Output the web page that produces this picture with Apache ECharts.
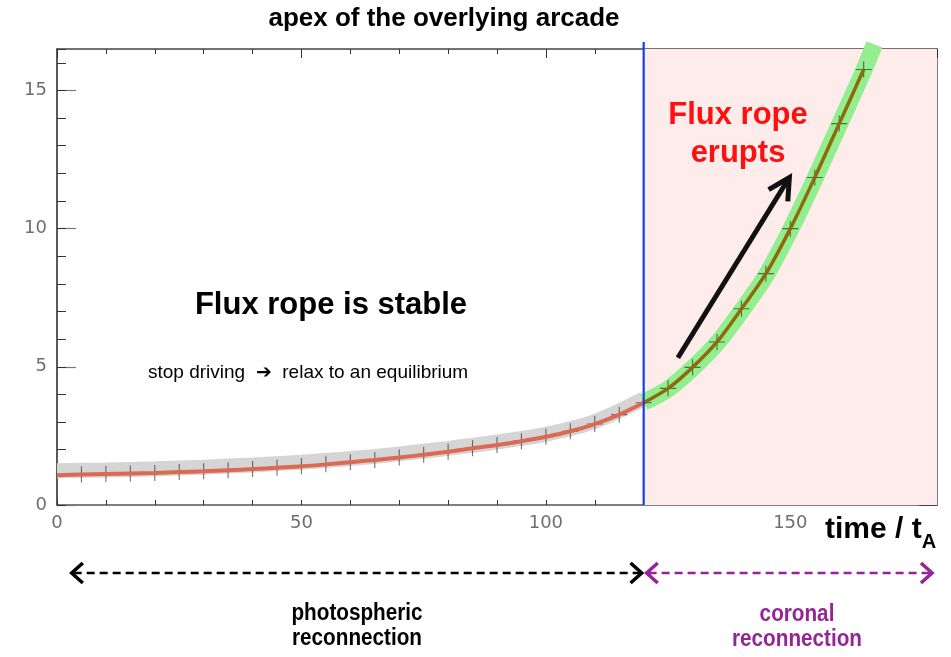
<!DOCTYPE html>
<html>
<head>
<meta charset="utf-8">
<script src="https://cdn.jsdelivr.net/npm/echarts@6/dist/echarts.min.js"></script>
<style>
  html, body { margin: 0; padding: 0; background: #fff; }
  #chart { width: 951px; height: 657px; }
</style>
</head>
<body>
<div id="chart"></div>
<script>
// Height of the flux-rope apex versus time (in Alfven times)
const tStable = [0, 5, 10, 15, 20, 25, 30, 35, 40, 45, 50, 55, 60, 65, 70, 75, 80, 85, 90, 95, 100, 105, 110, 115, 120];
const hStable = [1.08, 1.10, 1.12, 1.14, 1.16, 1.19, 1.22, 1.26, 1.30, 1.35, 1.40, 1.47, 1.55, 1.63, 1.72, 1.82, 1.93, 2.05, 2.17, 2.31, 2.47, 2.67, 2.93, 3.27, 3.70];
const tErupt = [120, 125, 130, 135, 140, 145, 150, 155, 160, 165];
const hErupt = [3.70, 4.22, 4.98, 5.90, 7.10, 8.37, 10.0, 11.85, 13.8, 15.76];

// Broad shaded bands behind the two phases
const tGrayBand = [0, 10, 20, 30, 40, 50, 60, 70, 80, 90, 100, 110, 120];
const hGrayBand = [1.24, 1.27, 1.31, 1.37, 1.45, 1.55, 1.68, 1.85, 2.05, 2.28, 2.56, 3.02, 3.84];
const tGreenBand = [120, 125, 130, 135, 140, 145, 150, 155, 160, 165, 167.2];
const hGreenBand = [3.72, 4.20, 4.95, 5.85, 7.02, 8.30, 9.95, 11.8, 13.75, 15.72, 16.67];

// Sampled outputs (every 5 t_A) shown as crosses
const tMarks = tStable.slice(1).concat(tErupt.slice(1));
const hMarks = hStable.slice(1).concat(hErupt.slice(1));

// Axis ticks
const xTickLabels = [0, 50, 100, 150];
const yTickLabels = [0, 5, 10, 15];
const driveStop = 120;      // end of photospheric driving
const xMax = 180;
const yMax = 16.5;

// Annotation anchors in data units
const eruptArrowFrom = [127, 5.33];
const eruptArrowTo = [149.8, 11.85];
const photoSpan = [3, 119.6];
const coronalSpan = [120.6, 179];

const FONT = '"Liberation Sans", Arial, Helvetica, sans-serif';
const tickFont = { color: '#6e6e6e', fontSize: 18, fontFamily: '"DejaVu Sans", sans-serif' };

const zip = (a, b) => a.map((v, i) => [v, b[i]]);

const chart = echarts.init(document.getElementById('chart'), null, { renderer: 'canvas' });

const baseX = {
  type: 'value', min: 0, max: xMax, splitLine: { show: false },
  axisLine: { show: false, onZero: false }, axisLabel: { show: false },
  axisTick: { show: false }
};
const baseY = {
  type: 'value', min: 0, splitLine: { show: false },
  axisLine: { show: false, onZero: false }, axisLabel: { show: false },
  axisTick: { show: false }
};

chart.setOption({
  animation: false,
  backgroundColor: '#ffffff',
  grid: { left: 57, right: 14, top: 49, bottom: 152 },
  xAxis: [
    Object.assign({}, baseX, {
      position: 'bottom', interval: 10,
      axisLine: { show: true, onZero: false, lineStyle: { color: '#555', width: 1.5 } },
      axisTick: { show: true, inside: true, length: 5, lineStyle: { color: '#333' } },
      axisLabel: Object.assign({
        show: true, margin: 9, showMaxLabel: false,
        formatter: v => (xTickLabels.indexOf(v) >= 0 ? String(v) : '')
      }, tickFont)
    }),
    Object.assign({}, baseX, {
      position: 'top', interval: 10,
      axisLine: { show: true, onZero: false, lineStyle: { color: '#444', width: 1.5 } },
      axisTick: { show: true, inside: true, length: 5, lineStyle: { color: '#333' } }
    }),
    Object.assign({}, baseX, {
      position: 'top', interval: 50,
      axisTick: { show: true, inside: true, length: 9, lineStyle: { color: '#333' } }
    })
  ],
  yAxis: [
    Object.assign({}, baseY, {
      position: 'left', max: yMax, interval: 5,
      axisLine: { show: true, onZero: false, lineStyle: { color: '#222', width: 1.5 } },
      axisTick: { show: true, inside: true, length: 19, lineStyle: { color: '#777', width: 1.2 } },
      axisLabel: Object.assign({
        show: true, margin: 10, showMaxLabel: false,
        formatter: v => (yTickLabels.indexOf(v) >= 0 ? String(v) : '')
      }, tickFont)
    }),
    Object.assign({}, baseY, {
      position: 'left', max: yMax, interval: 1,
      axisTick: { show: true, inside: true, length: 9, lineStyle: { color: '#333' } }
    }),
    Object.assign({}, baseY, {
      position: 'right', max: 15, interval: 1,
      axisLine: { show: true, onZero: false, lineStyle: { color: '#555', width: 1.5 } },
      axisTick: { show: true, inside: true, length: 9, lineStyle: { color: '#444' } }
    }),
    Object.assign({}, baseY, {
      position: 'right', max: 15, interval: 4,
      axisTick: { show: true, inside: true, length: 18, lineStyle: { color: '#444' } }
    })
  ],
  series: [
    {
      // coronal-reconnection phase shading
      type: 'line', data: [], z: 0, silent: true,
      markArea: {
        silent: true,
        itemStyle: { color: '#fdece9' },
        data: [[{ xAxis: driveStop }, { xAxis: xMax }]]
      }
    },
    {
      type: 'line', data: zip(tGrayBand, hGrayBand), smooth: 0.3, showSymbol: false, z: 2,
      silent: true, lineStyle: { width: 15, color: '#d5d5d5', cap: 'butt' }
    },
    {
      type: 'line', data: zip(tGreenBand, hGreenBand), smooth: 0.3, showSymbol: false, z: 2,
      silent: true, clip: false, lineStyle: { width: 17, color: '#93ee8f', cap: 'butt' }
    },
    {
      type: 'scatter', data: zip(tMarks, hMarks), z: 3, silent: true,
      symbol: 'path://M9.3,0H10.7V9.3H20V10.7H10.7V20H9.3V10.7H0V9.3H9.3Z',
      symbolSize: 16,
      itemStyle: { color: 'rgba(25,25,25,0.75)' }
    },
    {
      type: 'line', data: zip(tStable, hStable), smooth: 0.3, showSymbol: false, z: 4,
      silent: true, lineStyle: { width: 4, color: '#dc6a52' }
    },
    {
      type: 'line', data: zip(tErupt, hErupt), smooth: 0.3, showSymbol: false, z: 4,
      silent: true, lineStyle: { width: 3.5, color: '#8f6a0a' }
    },
    {
      type: 'line', data: [[driveStop, 0], [driveStop, 16.75]], showSymbol: false, z: 5,
      silent: true, clip: false, lineStyle: { width: 2.2, color: '#1a3ce6' }
    }
  ]
});

// ---- annotations -------------------------------------------------------
const toPx = p => chart.convertToPixel({ xAxisIndex: 0, yAxisIndex: 0 }, p);

function chevron(tip, from, len, halfDeg) {
  const ang = Math.atan2(from[1] - tip[1], from[0] - tip[0]);
  const h = halfDeg * Math.PI / 180;
  return [
    [tip[0] + len * Math.cos(ang + h), tip[1] + len * Math.sin(ang + h)],
    tip,
    [tip[0] + len * Math.cos(ang - h), tip[1] + len * Math.sin(ang - h)]
  ];
}

function measure(text, font) {
  const ctx = document.createElement('canvas').getContext('2d');
  ctx.font = font;
  return ctx.measureText(text).width;
}

const a0 = toPx(eruptArrowFrom);
const a1 = toPx(eruptArrowTo);
const spanY = 573;
const pL = toPx([photoSpan[0], 0])[0], pR = toPx([photoSpan[1], 0])[0];
const cL = toPx([coronalSpan[0], 0])[0], cR = toPx([coronalSpan[1], 0])[0];

const purple = '#952496';
const timeFont = 'bold 30px ' + FONT;
const timeX = 825;
const timeW = measure('time / t', timeFont);
const TOP = 100;

const graphic = [
  { type: 'text', z: TOP, x: 444, y: 19, style: { text: 'apex of the overlying arcade', font: 'bold 26px ' + FONT, fill: '#000', align: 'center', verticalAlign: 'middle' } },
  { type: 'text', z: TOP, x: 331, y: 305, style: { text: 'Flux rope is stable', font: 'bold 31px ' + FONT, fill: '#000', align: 'center', verticalAlign: 'middle' } },
  { type: 'text', z: TOP, x: 148, y: 373, style: { text: 'stop driving  \u2794  relax to an equilibrium', font: '19px ' + FONT, fill: '#000', align: 'left', verticalAlign: 'middle' } },
  { type: 'text', z: TOP, x: 738, y: 134, style: { text: 'Flux rope\nerupts', font: 'bold 31px ' + FONT, lineHeight: 38, fill: '#ff1010', align: 'center', verticalAlign: 'middle' } },
  // eruption arrow
  { type: 'line', z: TOP, shape: { x1: a0[0], y1: a0[1], x2: a1[0], y2: a1[1] }, style: { stroke: '#111', lineWidth: 5 } },
  { type: 'polyline', z: TOP, shape: { points: chevron(a1, a0, 24, 28) }, style: { stroke: '#111', lineWidth: 5, fill: null, lineJoin: 'miter' } },
  // axis title
  { type: 'text', z: TOP, x: timeX, y: 530, style: { text: 'time / t', font: timeFont, fill: '#000', align: 'left', verticalAlign: 'middle' } },
  { type: 'text', z: TOP, x: timeX + timeW, y: 542, style: { text: 'A', font: 'bold 20px ' + FONT, fill: '#000', align: 'left', verticalAlign: 'middle' } },
  // phase spans below the axis
  { type: 'line', z: TOP, shape: { x1: pL + 2, y1: spanY, x2: pR - 2, y2: spanY }, style: { stroke: '#000', lineWidth: 2.5, lineDash: [8, 5] } },
  { type: 'polyline', z: TOP, shape: { points: chevron([pL, spanY], [pR, spanY], 15, 42) }, style: { stroke: '#000', lineWidth: 3.5, fill: null } },
  { type: 'polyline', z: TOP, shape: { points: chevron([pR, spanY], [pL, spanY], 15, 42) }, style: { stroke: '#000', lineWidth: 3.5, fill: null } },
  { type: 'line', z: TOP, shape: { x1: cL + 2, y1: spanY, x2: cR - 2, y2: spanY }, style: { stroke: purple, lineWidth: 2.5, lineDash: [8, 5] } },
  { type: 'polyline', z: TOP, shape: { points: chevron([cL, spanY], [cR, spanY], 15, 42) }, style: { stroke: purple, lineWidth: 3.5, fill: null } },
  { type: 'polyline', z: TOP, shape: { points: chevron([cR, spanY], [cL, spanY], 15, 42) }, style: { stroke: purple, lineWidth: 3.5, fill: null } },
  // condensed bold labels under the spans
  { type: 'text', z: TOP, x: 357, y: 626, scaleX: 0.9, style: { text: 'photospheric\nreconnection', font: 'bold 23px ' + FONT, lineHeight: 25, fill: '#000', align: 'center', verticalAlign: 'middle' } },
  { type: 'text', z: TOP, x: 797, y: 627, scaleX: 0.9, style: { text: 'coronal\nreconnection', font: 'bold 23px ' + FONT, lineHeight: 25, fill: purple, align: 'center', verticalAlign: 'middle' } }
];

chart.setOption({ graphic: graphic });
</script>
</body>
</html>
